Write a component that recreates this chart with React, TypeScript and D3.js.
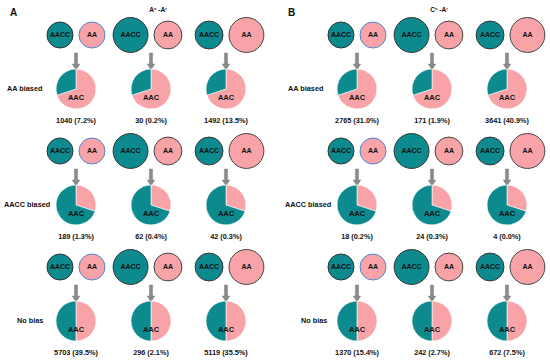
import { useEffect, useRef } from 'react';
import * as d3 from 'd3';

// rows of each panel
const rowLabels = ['AA biased', 'AACC biased', 'No bias'];
// share of the AA copy in the AAC pie, per row
const aaShare = [0.7, 0.3, 0.5];

// relative parent expression level for the three columns
const aaccLevel = [1, 1.8, 1.15];
const aaLevel = [1, 1.15, 1.8];

const panelLetters = ['A', 'B'];
const titleBase = [
  ['A', 'A'],
  ['C', 'A'],
];
const titleSup = ['n', 'r'];

const countsA = [
  [1040, 30, 1492],
  [189, 62, 42],
  [5703, 296, 5119],
];
const pctA = [
  [7.2, 0.2, 13.5],
  [1.3, 0.4, 0.3],
  [39.5, 2.1, 35.5],
];
const countsB = [
  [2765, 171, 3641],
  [18, 24, 4],
  [1370, 242, 672],
];
const pctB = [
  [31.0, 1.9, 40.9],
  [0.2, 0.3, 0.0],
  [15.4, 2.7, 7.5],
];

const TEAL = '#0c8a8e';
const PINK = '#f8a3a8';
const FONT = '"Liberation Sans", Arial, sans-serif';

export default function App() {
  const svgRef = useRef<SVGSVGElement>(null);

  useEffect(() => {
    if (!svgRef.current) return;
    const width = 550;
    const height = 361;
    const svg = d3.select(svgRef.current);
    svg.selectAll('*').remove();
    svg.attr('width', width).attr('height', height);

    const rScale = d3.scaleSqrt().domain([0, 1]).range([0, 13]);
    const colX = d3.scalePoint<number>().domain([0, 1, 2]).range([76, 226]);
    const rowY = d3.scalePoint<number>().domain([0, 1, 2]).range([35, 267]);
    const pieR = 20;
    const pie = d3
      .pie<number>()
      .sort(null)
      .value((d) => d);
    const arc = d3.arc<d3.PieArcDatum<number>>().innerRadius(0).outerRadius(pieR);

    const panelOffset = [0, 281];
    const labelDx = [
      [7, 4, 17],
      [7, 4, 20],
    ];
    const allCounts = [countsA, countsB];
    const allPct = [pctA, pctB];

    panelLetters.forEach((letter, p) => {
      const g = svg.append('g').attr('transform', `translate(${panelOffset[p]},0)`);

      g.append('text')
        .attr('x', p === 0 ? 10 : 7)
        .attr('y', 16)
        .attr('font-family', FONT)
        .attr('font-weight', 'bold')
        .attr('font-size', 10)
        .attr('fill', '#111')
        .text(letter);

      const title = g
        .append('text')
        .attr('x', colX(1)! + 7)
        .attr('y', 12)
        .attr('text-anchor', 'middle')
        .attr('font-family', FONT)
        .attr('font-weight', 'bold')
        .attr('font-size', 6.5)
        .attr('fill', '#111');
      title.append('tspan').text(titleBase[p][0]);
      title.append('tspan').attr('font-size', 4).attr('dy', -2.5).text(titleSup[0]);
      title.append('tspan').attr('dy', 2.5).text(' -' + titleBase[p][1]);
      title.append('tspan').attr('font-size', 4).attr('dy', -2.5).text(titleSup[1]);

      rowLabels.forEach((label, r) => {
        const cy = rowY(r)!;
        const pieY = cy + 54;

        g.append('text')
          .attr('x', labelDx[p][r])
          .attr('y', pieY)
          .attr('dominant-baseline', 'middle')
          .attr('font-family', FONT)
          .attr('font-weight', 'bold')
          .attr('font-size', 7.3)
          .attr('fill', '#111')
          .text(label);

        [0, 1, 2].forEach((c) => {
          const cx = colX(c)!;
          const rA = rScale(aaccLevel[c]);
          const rB = rScale(aaLevel[c]);
          const gap = 3;

          // parents
          const parents = [
            { name: 'AACC', x: cx - gap - rA, r: rA, fill: TEAL, stroke: '#333' },
            { name: 'AA', x: cx + gap + rB, r: rB, fill: PINK, stroke: c === 0 ? '#4f86d6' : '#444' },
          ];
          parents.forEach((d) => {
            g.append('circle')
              .attr('cx', d.x)
              .attr('cy', cy)
              .attr('r', d.r)
              .attr('fill', d.fill)
              .attr('stroke', d.stroke)
              .attr('stroke-width', 1);
            g.append('text')
              .attr('x', d.x)
              .attr('y', cy + 0.5)
              .attr('text-anchor', 'middle')
              .attr('dominant-baseline', 'middle')
              .attr('font-family', FONT)
              .attr('font-weight', 'bold')
              .attr('font-size', 7)
              .attr('fill', '#111')
              .text(d.name);
          });

          // arrow
          const a0 = cy + 18;
          const a1 = cy + 35;
          g.append('path')
            .attr(
              'd',
              `M${cx - 1.6},${a0}L${cx + 1.6},${a0}L${cx + 1.6},${a1 - 6}L${cx + 3.8},${a1 - 6}L${cx},${a1}L${cx - 3.8},${a1 - 6}L${cx - 1.6},${a1 - 6}Z`
            )
            .attr('fill', '#8a8a8a')
            .attr('stroke', '#777')
            .attr('stroke-width', 0.4);

          // offspring pie: AA share first, then AACC
          const pg = g.append('g').attr('transform', `translate(${cx},${pieY})`);
          pg.selectAll('path')
            .data(pie([aaShare[r], 1 - aaShare[r]]))
            .join('path')
            .attr('d', arc)
            .attr('fill', (_, i) => (i === 0 ? PINK : TEAL))
            .attr('stroke', '#fff')
            .attr('stroke-width', 0.6);
          pg.append('text')
            .attr('y', 9)
            .attr('text-anchor', 'middle')
            .attr('dominant-baseline', 'middle')
            .attr('font-family', FONT)
            .attr('font-weight', 'bold')
            .attr('font-size', 7.5)
            .attr('fill', '#111')
            .text('AAC');

          g.append('text')
            .attr('x', cx)
            .attr('y', pieY + 32)
            .attr('text-anchor', 'middle')
            .attr('dominant-baseline', 'middle')
            .attr('font-family', FONT)
            .attr('font-weight', 'bold')
            .attr('font-size', 7.3)
            .attr('fill', '#111')
            .text(`${allCounts[p][r][c]} (${allPct[p][r][c].toFixed(1)}%)`);
        });
      });
    });
  }, []);

  return (
    <div style={{ position: 'absolute', left: 0, top: 0, background: '#fff' }}>
      <svg ref={svgRef} style={{ display: 'block' }} />
    </div>
  );
}
